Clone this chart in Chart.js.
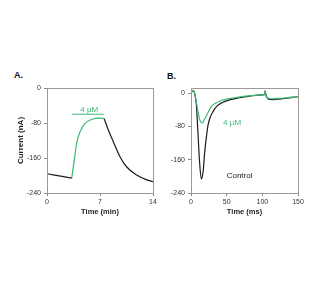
<!DOCTYPE html>
<html>
<head>
<meta charset="utf-8">
<script src="https://cdn.jsdelivr.net/npm/chart.js@4/dist/chart.umd.min.js"></script>
<style>
  body { margin: 0; background: #fff; width: 332px; height: 284px; position: relative; overflow: hidden; font-family: "Liberation Sans", Arial, sans-serif; }
  .panel { position: absolute; }
  .tag { position: absolute; font-weight: bold; font-size: 9px; color: #111; }
</style>
</head>
<body>
<div class="tag" style="left:14px;top:70px">A.</div>
<div class="tag" style="left:167px;top:71px">B.</div>
<div class="panel" style="left:0;top:80px;width:160px;height:140px"><canvas id="chartA"></canvas></div>
<div class="panel" style="left:160px;top:80px;width:172px;height:140px"><canvas id="chartB"></canvas></div>
<script>
// panel A: current vs time (min)
var preTimeA = [0, 1, 2, 3.26];
var preValA = [-196, -199, -202, -206];
var drugTimeA = [3.26, 3.6, 3.92, 4.36, 5.02, 5.9, 7.0, 7.55];
var drugValA = [-206, -165, -126, -100, -81, -72, -69, -70];
var washTimeA = [7.55, 8.1, 8.76, 9.64, 10.5, 11.85, 13.17, 14];
var washValA = [-70, -96, -123, -157, -180, -199, -210, -214];
var barTimeA = [3.26, 7.5];
var barValA = [-60, -60];

// panel B: current vs time (ms)
var controlTimeB = [0, 3, 5, 7.5, 9.9, 12, 14.5, 17, 19.3, 22, 24, 27, 31, 36, 42.7, 55, 66, 80, 95, 103, 104, 105, 107, 109, 113.6, 120, 132, 140, 150];
var controlValB = [0, 6, 0, -28, -100, -165, -206, -188, -140, -100, -76, -58, -44, -32, -24, -16, -12, -8, -5, -4, 5, -5, -12, -15, -16, -15, -13, -11, -9];
var drugTimeB = [0, 3, 5, 7.5, 10, 12.2, 15.5, 18, 21.5, 25, 28.6, 35, 42.7, 55, 66, 80, 95, 103, 104, 105, 107, 109, 113.6, 120, 132, 140, 150];
var drugValB = [0, 6, 0, -22, -46, -64, -72, -66, -55, -43, -32, -24, -18, -13, -10, -7, -5, -4, 5, -5, -11, -13, -14, -13, -12, -10, -9];

var yTicks = [-240, -160, -80, 0];

var GREEN = '#3dba72';
var BLACK = '#1c1c1c';
var FONT = 'Liberation Sans';

function pts(xs, ys) {
    return xs.map(function (x, i) { return { x: x, y: ys[i] }; });
}

function line(data, color, smooth) {
    return {
        data: data,
        borderColor: color,
        borderWidth: 1.2,
        pointRadius: 0,
        fill: false,
        cubicInterpolationMode: smooth ? 'monotone' : 'default',
        tension: 0
    };
}

// frame + text labels drawn on top of the plot
var framePlugin = {
    id: 'frame',
    afterDraw: function (chart, args, opts) {
        var ctx = chart.ctx, a = chart.chartArea;
        ctx.save();
        ctx.strokeStyle = '#9a9a9a';
        ctx.lineWidth = 1;
        ctx.strokeRect(a.left + 0.5, a.top + 0.5, a.right - a.left, a.bottom - a.top);
        (opts.labels || []).forEach(function (l) {
            ctx.fillStyle = l.color;
            ctx.font = '8px "' + FONT + '"';
            ctx.textAlign = 'left';
            ctx.textBaseline = 'middle';
            var px = chart.scales.x.getPixelForValue(l.x);
            var py = chart.scales.y.getPixelForValue(l.y);
            ctx.fillText(l.text, px, py);
        });
        ctx.restore();
    }
};

function axes(xMin, xMax, xStep, yMax, xTitle, yTitle, yWidth) {
    return {
        x: {
            type: 'linear', min: xMin, max: xMax,
            ticks: { stepSize: xStep, color: '#333', font: { family: FONT, size: 7 }, padding: 2, maxRotation: 0 },
            grid: { drawOnChartArea: false, tickLength: 3, color: '#888' },
            border: { color: '#888' },
            title: { display: true, text: xTitle, color: '#222', font: { family: FONT, size: 7.5, weight: 'bold' }, padding: { top: 1 } },
            afterFit: function (s) { s.height = 27; }
        },
        y: {
            type: 'linear', min: -240, max: yMax,
            afterBuildTicks: function (s) { s.ticks = yTicks.map(function (v) { return { value: v }; }); },
            ticks: { color: '#333', font: { family: FONT, size: 7 }, padding: 3 },
            grid: { drawOnChartArea: false, tickLength: 3, color: '#888' },
            border: { color: '#888' },
            title: { display: !!yTitle, text: yTitle, color: '#222', font: { family: FONT, size: 8, weight: 'bold' }, padding: { top: 16, bottom: 0 } },
            afterFit: function (s) { s.width = yWidth; }
        }
    };
}

new Chart(document.getElementById('chartA'), {
    type: 'line',
    data: {
        datasets: [
            line(pts(preTimeA, preValA), BLACK, false),
            line(pts(washTimeA, washValA), BLACK, true),
            line(pts(drugTimeA, drugValA), GREEN, true),
            line(pts(barTimeA, barValA), GREEN, false)
        ]
    },
    options: {
        responsive: true, maintainAspectRatio: false, animation: false,
        layout: { padding: { top: 8, right: 7, left: 0, bottom: 0 } },
        plugins: {
            legend: { display: false }, tooltip: { enabled: false },
            frame: { labels: [{ text: '4 \u00b5M', x: 4.4, y: -50, color: GREEN }] }
        },
        scales: axes(0, 14, 7, 0, 'Time (min)', 'Current (nA)', 47)
    },
    plugins: [framePlugin]
});

new Chart(document.getElementById('chartB'), {
    type: 'line',
    data: {
        datasets: [
            line(pts(drugTimeB, drugValB), GREEN, true),
            line(pts(controlTimeB, controlValB), BLACK, true)
        ]
    },
    options: {
        responsive: true, maintainAspectRatio: false, animation: false,
        layout: { padding: { top: 8, right: 34, left: 0, bottom: 0 } },
        plugins: {
            legend: { display: false }, tooltip: { enabled: false },
            frame: { labels: [
                { text: '4 \u00b5M', x: 45, y: -72, color: GREEN },
                { text: 'Control', x: 50, y: -198, color: '#222' }
            ] }
        },
        scales: axes(0, 150, 50, 12, 'Time (ms)', '', 31)
    },
    plugins: [framePlugin]
});
</script>
</body>
</html>
